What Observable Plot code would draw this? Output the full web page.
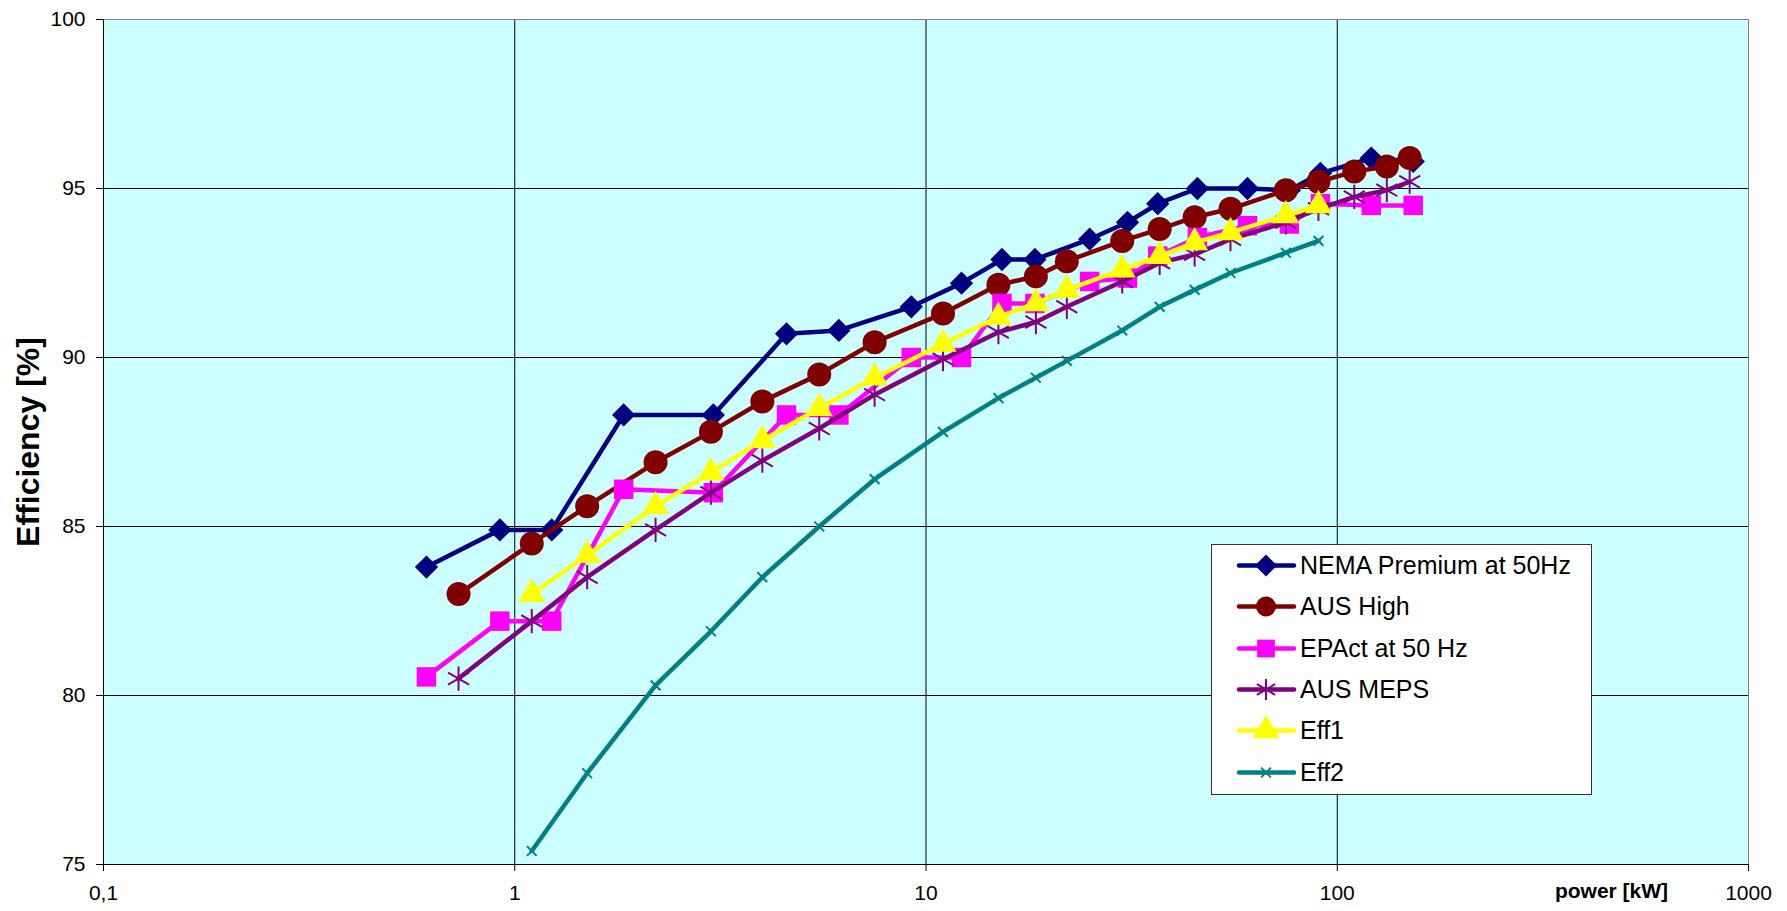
<!DOCTYPE html>
<html><head><meta charset="utf-8">
<script src="https://cdn.jsdelivr.net/npm/d3@7"></script>
<script src="https://cdn.jsdelivr.net/npm/@observablehq/plot@0.6"></script>
<style>
body{margin:0;background:#fff;font-family:"Liberation Sans",Arial,sans-serif;}
#wrap{position:relative;width:1787px;height:911px;overflow:hidden;}
#legend{position:absolute;left:1211px;top:544px;width:379px;height:249px;background:#fff;border:1px solid #333;box-sizing:content-box;}
.row{height:41.3px;display:flex;align-items:center;font-size:25px;color:#000;white-space:nowrap;}
.row svg{flex:none;}
</style>
</head><body>
<div id="wrap"></div>
<script>
// ---- data ----
const seriesNames = ["NEMA Premium at 50Hz", "AUS High", "EPAct at 50 Hz", "AUS MEPS", "Eff1", "Eff2"];
const seriesColors = ["#000080", "#800000", "#FF00FF", "#800080", "#FFFF00", "#008080"];
const seriesSymbols = ["diamond2", "circle", "square", "asterisk", "triangle", "times"];

const nemaPower = [0.61, 0.92, 1.23, 1.84, 3.04, 4.58, 6.14, 9.21, 12.2, 15.3, 18.4, 25.0, 30.9, 36.6, 45.7, 60.5, 76.5, 91, 121, 153];
const nemaEff   = [83.8, 84.9, 84.9, 88.3, 88.3, 90.7, 90.8, 91.5, 92.2, 92.9, 92.9, 93.5, 94.0, 94.55, 95.0, 95.0, 94.95, 95.45, 95.9, 95.8];

const epactPower = [0.61, 0.92, 1.23, 1.84, 3.04, 4.58, 6.14, 9.21, 12.2, 15.3, 18.4, 25.0, 30.9, 36.6, 45.7, 60.5, 76.5, 91, 121, 153];
const epactEff   = [80.55, 82.2, 82.2, 86.1, 86.0, 88.3, 88.3, 90.0, 90.0, 91.6, 91.6, 92.25, 92.35, 93.0, 93.55, 93.9, 93.95, 94.55, 94.5, 94.5];

const ausPower   = [0.73, 1.1, 1.5, 2.2, 3, 4, 5.5, 7.5, 11, 15, 18.5, 22, 30, 37, 45, 55, 75, 90, 110, 132, 150];
const ausHighEff = [83.0, 84.5, 85.6, 86.9, 87.8, 88.7, 89.5, 90.45, 91.3, 92.15, 92.4, 92.85, 93.45, 93.8, 94.15, 94.4, 94.95, 95.2, 95.5, 95.65, 95.9];
const ausMepsEff = [80.5, 82.2, 83.5, 84.9, 86.0, 86.95, 87.9, 88.9, 89.95, 90.75, 91.05, 91.5, 92.25, 92.8, 93.05, 93.5, 94.0, 94.4, 94.75, 94.95, 95.2];

const effPower = [1.1, 1.5, 2.2, 3, 4, 5.5, 7.5, 11, 15, 18.5, 22, 30, 37, 45, 55, 75, 90];
const eff1Eff  = [83.0, 84.15, 85.6, 86.6, 87.55, 88.5, 89.4, 90.4, 91.2, 91.6, 92.0, 92.6, 93.0, 93.4, 93.7, 94.2, 94.5];
const eff2Eff  = [75.4, 77.7, 80.3, 81.9, 83.5, 85.0, 86.4, 87.8, 88.8, 89.4, 89.9, 90.8, 91.5, 92.0, 92.5, 93.1, 93.45];

const xTicks = [0.1, 1, 10, 100, 1000];
const xTickLabels = ["0,1", "1", "10", "100", "1000"];
const yTicks = [75, 80, 85, 90, 95, 100];
const xLabel = "power [kW]";
const yLabel = "Efficiency [%]";

// ---- build table ----
const seriesX = [nemaPower, ausPower, epactPower, ausPower, effPower, effPower];
const seriesY = [nemaEff, ausHighEff, epactEff, ausMepsEff, eff1Eff, eff2Eff];
const table = seriesNames.map((name, i) => seriesX[i].map((x, j) => ({series: name, power: x, eff: seriesY[i][j]})));

// marker styles
const markerR = [10.5, 12, 11, 11.5, 10, 4.5];
const markerFilled = [true, true, true, false, true, false];
const lineW = [4.5, 4.5, 4.5, 4.5, 4.5, 4.5];

const marks = [
  Plot.frame({fill: "#CCFFFF", stroke: null}),
  Plot.gridY(yTicks.slice(1, -1), {stroke: "#000", strokeOpacity: 1, strokeWidth: 1}),
  Plot.gridX([1, 10, 100], {stroke: "#000", strokeOpacity: 1, strokeWidth: 1}),
  Plot.frame({stroke: "#808080", strokeWidth: 1}),
  Plot.ruleX([0.1], {stroke: "#000", strokeWidth: 1}),
  Plot.ruleY([75], {stroke: "#000", strokeWidth: 1})
];

table.forEach((rows, i) => {
  marks.push(Plot.line(rows, {x: "power", y: "eff", stroke: seriesColors[i], strokeWidth: lineW[i], strokeLinejoin: "round"}));
  if (markerFilled[i]) {
    marks.push(Plot.dot(rows, {x: "power", y: "eff", symbol: () => seriesSymbols[i], r: markerR[i], fill: seriesColors[i], stroke: "none"}));
  } else {
    marks.push(Plot.dot(rows, {x: "power", y: "eff", symbol: () => seriesSymbols[i], r: markerR[i], fill: "none", stroke: seriesColors[i], strokeWidth: 2}));
  }
});

marks.push(
  Plot.axisY({ticks: yTicks, tickSize: 7, tickPadding: 11, fontSize: 21, label: null, stroke: "#000", fill: "#000"}),
  Plot.axisX({ticks: xTicks, tickSize: 7, tickPadding: 14, fontSize: 21, label: null, stroke: "#000", fill: "#000",
    tickFormat: d => xTickLabels[xTicks.indexOf(d)]}),
  Plot.text([yLabel], {frameAnchor: "left", dx: -75, rotate: -90, textAnchor: "middle", lineAnchor: "middle", fontSize: 32, fontWeight: "bold", fill: "#000"}),
  Plot.text([xLabel], {frameAnchor: "bottom-right", dx: -137, dy: 27, textAnchor: "middle", lineAnchor: "middle", fontSize: 21, fontWeight: "bold", fill: "#000"})
);

const chart = Plot.plot({
  width: 1787,
  height: 911,
  marginLeft: 103,
  marginTop: 19,
  marginRight: 39,
  marginBottom: 47,
  style: {fontFamily: "Liberation Sans, Arial, sans-serif", fontSize: "21px", color: "#000", background: "#fff"},
  x: {type: "log", domain: [0.1, 1000]},
  y: {domain: [75, 100]},
  symbol: {type: "identity"},
  marks
});
document.getElementById("wrap").appendChild(chart);

// ---- legend (HTML overlay) ----
const legend = document.createElement("div");
legend.id = "legend";
const symMap = {diamond2: d3.symbolDiamond2, circle: d3.symbolCircle, square: d3.symbolSquare, asterisk: d3.symbolAsterisk, triangle: d3.symbolTriangle, times: d3.symbolTimes};
seriesNames.forEach((name, i) => {
  const row = document.createElement("div");
  row.className = "row";
  const svg = d3.create("svg").attr("width", 88).attr("height", 41);
  svg.append("line").attr("x1", 27).attr("x2", 82).attr("y1", 20.5).attr("y2", 20.5)
    .attr("stroke", seriesColors[i]).attr("stroke-width", lineW[i]).attr("stroke-linecap", "round");
  const r = Math.min(markerR[i], 10);
  const path = d3.symbol().type(symMap[seriesSymbols[i]]).size(Math.PI * r * r)();
  const p = svg.append("path").attr("d", path).attr("transform", "translate(54,20.5)");
  if (markerFilled[i]) p.attr("fill", seriesColors[i]);
  else p.attr("fill", "none").attr("stroke", seriesColors[i]).attr("stroke-width", 2);
  row.appendChild(svg.node());
  const span = document.createElement("span");
  span.textContent = name;
  row.appendChild(span);
  legend.appendChild(row);
});
document.getElementById("wrap").appendChild(legend);
</script>
</body></html>
